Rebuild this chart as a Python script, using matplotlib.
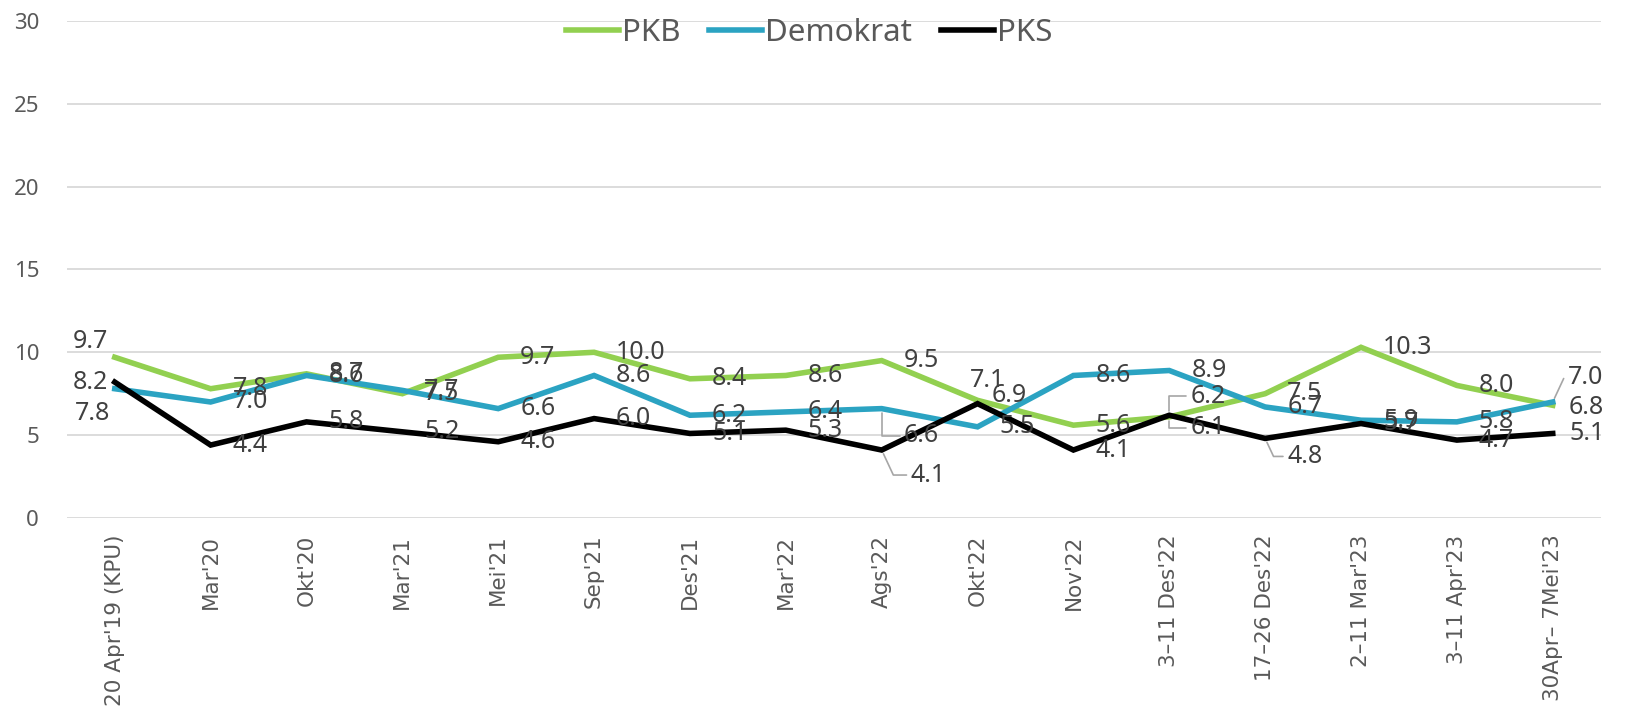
import matplotlib
matplotlib.use("Agg")
from matplotlib import pyplot as plt

plt.rcParams['font.family'] = ['Noto Sans', 'DejaVu Sans']

# survey dates
cats = ["20 Apr'19 (KPU)", "Mar'20", "Okt'20", "Mar'21", "Mei'21", "Sep'21",
        "Des'21", "Mar'22", "Ags'22", "Okt'22", "Nov'22", "3\u201311 Des'22",
        "17\u201326 Des'22", "2\u201311 Mar'23", "3\u201311 Apr'23",
        "30Apr\u2013 7Mei'23"]

pkb = [9.7, 7.8, 8.7, 7.5, 9.7, 10.0, 8.4, 8.6, 9.5, 7.1, 5.6, 6.1, 7.5, 10.3, 8.0, 6.8]
demokrat = [7.8, 7.0, 8.6, 7.7, 6.6, 8.6, 6.2, 6.4, 6.6, 5.5, 8.6, 8.9, 6.7, 5.9, 5.8, 7.0]
pks = [8.2, 4.4, 5.8, 5.2, 4.6, 6.0, 5.1, 5.3, 4.1, 6.9, 4.1, 6.2, 4.8, 5.7, 4.7, 5.1]

series = [("PKB", pkb, '#92D050'),
          ("Demokrat", demokrat, '#2BA3C2'),
          ("PKS", pks, '#000000')]

# label placement (offset px, alignment, leader angle) where it differs from default
label_pos = {
    ("PKB", 0): (-7, 16, 'right', None),
    ("PKS", 0): (-7, 0, 'right', None),
    ("Demokrat", 0): (-5, -25, 'right', None),
    ("Demokrat", 8): (22, -27, 'left', 90),
    ("PKS", 8): (29, -25, 'left', -65),
    ("PKB", 9): (10, 20, 'center', None),
    ("PKS", 9): (14, 8, 'left', None),
    ("PKS", 11): (21, 19, 'left', 90),
    ("PKB", 11): (21, -11, 'left', 90),
    ("PKS", 12): (22, -18, 'left', -65),
    ("Demokrat", 15): (15, 24, 'left', 65),
    ("PKB", 15): (16, -2, 'left', None),
    ("PKS", 15): (17, 0, 'left', None),
}

fig = plt.figure(figsize=(16.3, 7.21), dpi=100)
ax = fig.add_axes([0.041, 0.2816, 0.941, 0.6894])

xs = list(range(len(cats)))
for name, vals, col in series:
    ax.plot(xs, vals, color=col, lw=4, label=name, solid_joinstyle='miter', zorder=3)

for name, vals, col in series:
    for i, v in enumerate(vals):
        dx, dy, ha, leader = label_pos.get((name, i), (22, 0, 'left', None))
        kw = {}
        if leader is not None:
            kw['arrowprops'] = dict(arrowstyle='-', color='#A6A6A6', lw=1.2,
                                    relpos=(0, 0.5), shrinkA=1, shrinkB=3,
                                    connectionstyle=f'angle,angleA=0,angleB={leader},rad=0')
        ax.annotate(f"{v:.1f}", (i, v), xytext=(dx, dy), textcoords='offset pixels',
                    ha=ha, va='center', fontsize=18, color='#404040', zorder=4, **kw)

ax.set_xlim(-0.5, len(cats) - 0.5)
ax.set_ylim(0, 30)
ax.set_yticks(range(0, 31, 5))
ax.set_xticks(xs)
ax.set_xticklabels(cats, rotation=90, fontsize=15.5, color='#595959',
                   family=['DejaVu Sans'])
ax.tick_params(axis='y', length=0, pad=20, labelsize=16, labelcolor='#595959')
ax.tick_params(axis='x', length=0, pad=12)
ax.grid(axis='y', color='#D9D9D9', lw=1.3)
ax.set_axisbelow(True)
for s in ax.spines.values():
    s.set_visible(False)

leg = ax.legend(loc='center', bbox_to_anchor=(0.484, 0.976), ncol=3, frameon=False,
                fontsize=22.5, handlelength=1.7, handletextpad=0.1, columnspacing=0.9,
                borderaxespad=0)
for t in leg.get_texts():
    t.set_color('#595959')

fig.savefig('out.png', dpi=100)
